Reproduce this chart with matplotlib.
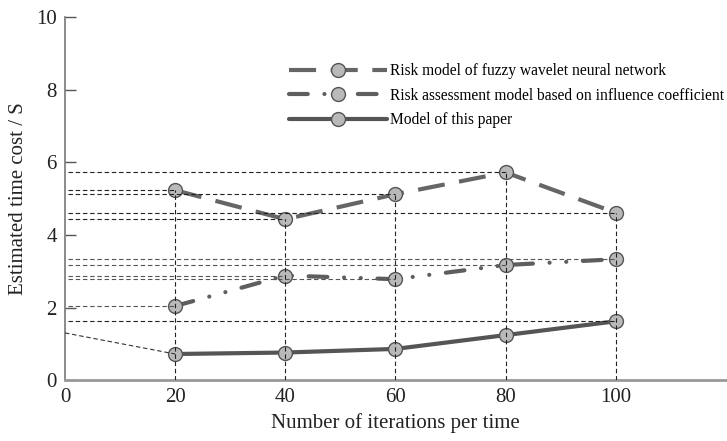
import matplotlib
matplotlib.use('Agg')
import matplotlib.pyplot as plt

plt.rcParams['font.family'] = ['Liberation Serif', 'DejaVu Serif']

iters = [20, 40, 60, 80, 100]
fuzzy = [5.23, 4.43, 5.12, 5.72, 4.61]
influence = [2.04, 2.88, 2.78, 3.17, 3.33]
paper = [0.72, 0.76, 0.86, 1.24, 1.62]
start_val = 1.30  # where the thin dashed lead-in line starts at x=0

labels = ['Risk model of fuzzy wavelet neural network',
          'Risk assessment model based on influence coefficient',
          'Model of this paper']

fig = plt.figure(figsize=(7.27, 4.41), dpi=100)
ax = fig.add_axes([0.0894, 0.138, 0.909, 0.8235])

mk = dict(marker='o', markersize=10, markerfacecolor='#b9b9b9',
          markeredgecolor='#555555', markeredgewidth=1.0)

l1, = ax.plot(iters, fuzzy, color='#666666', lw=3, dashes=(6.5, 3.5),
              label=labels[0], zorder=3, **mk)
l2, = ax.plot(iters, influence, color='#5e5e5e', lw=3, dash_capstyle='round',
              dashes=(4.5, 4, 0.01, 4, 0.01, 4), label=labels[1], zorder=3, **mk)
l3, = ax.plot(iters, paper, color='#555555', lw=3, solid_capstyle='round',
              label=labels[2], zorder=3, **mk)

# guide lines
g = dict(lw=0.8, dashes=(4, 2.5), zorder=4)
for xv, yv in zip(iters, fuzzy):
    ax.plot([0.5, xv], [yv, yv], color='#222222', **g)
for xv, yv in zip(iters, influence):
    ax.plot([0.5, xv], [yv, yv], color='#555555', **g)
ax.plot([0.5, iters[-1]], [paper[-1], paper[-1]], color='#222222', **g)
for xv, yv in zip(iters, fuzzy):
    ax.plot([xv, xv], [0, yv], color='#222222', **g)
ax.plot([0, iters[0]], [start_val, paper[0]], color='#333333', **g)

ax.set_xlim(0, 120)
ax.set_ylim(0, 10)
ax.set_xticks([0, 20, 40, 60, 80, 100])
ax.set_yticks([0, 2, 4, 6, 8, 10])
ax.tick_params(axis='y', direction='in', length=8, width=1, colors='#555555',
               labelsize=15, labelcolor='#222222', pad=6)
ax.tick_params(axis='x', length=0, labelsize=15, labelcolor='#222222', pad=6)
for s in ['top', 'right']:
    ax.spines[s].set_visible(False)
ax.spines['left'].set_color('#777777')
ax.spines['bottom'].set_color('#999999')
ax.spines['left'].set_linewidth(1.2)
ax.spines['bottom'].set_linewidth(2)

ax.set_xlabel('Number of iterations per time', fontsize=15, color='#222222', labelpad=4)
ax.set_ylabel('Estimated time cost / S', fontsize=15, color='#222222', labelpad=6)

leg = ax.legend(handles=[l1, l2, l3], loc='upper left', bbox_to_anchor=(0.33, 0.89),
                frameon=False, fontsize=11.2, handlelength=6.3, handletextpad=0.2,
                labelspacing=0.55, borderaxespad=0)

fig.savefig('out.png', dpi=100)
